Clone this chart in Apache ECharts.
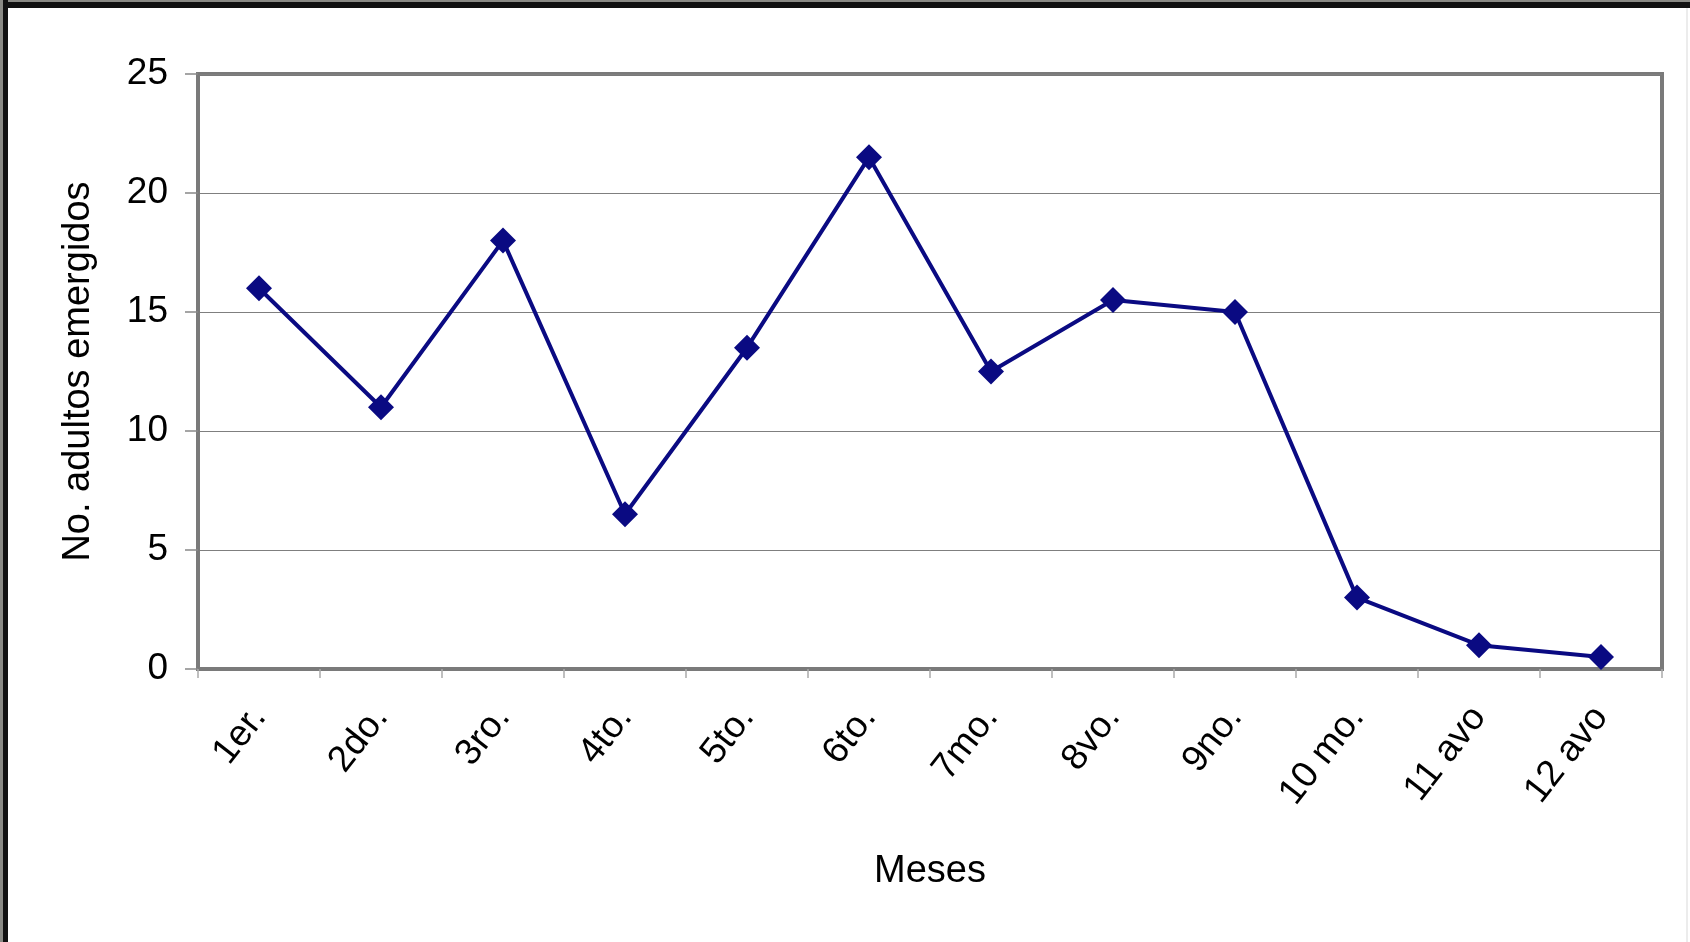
<!DOCTYPE html>
<html>
<head>
<meta charset="utf-8">
<script src="https://cdn.jsdelivr.net/npm/echarts@6/dist/echarts.min.js"></script>
<style>
  html, body { margin: 0; padding: 0; background: #ffffff; }
  #wrap { position: relative; width: 1690px; height: 942px; overflow: hidden; background: #fff; }
  #chart { position: absolute; left: 0; top: 0; width: 1690px; height: 942px; }
  .frameTop { position: absolute; left: 0; top: 0; width: 1690px; height: 8px; background: #111; border-top: 2px solid #8a8a85; box-sizing: border-box; }
  .frameLeft { position: absolute; left: 0; top: 0; width: 8px; height: 942px; background: #111; border-left: 3px solid #8a8a85; box-sizing: border-box; }
  .frameRight { position: absolute; right: 2px; top: 8px; width: 2px; height: 934px; background: #ececec; }
</style>
</head>
<body>
<div id="wrap">
  <div id="chart"></div>
  <div class="frameTop"></div>
  <div class="frameLeft"></div>
  <div class="frameRight"></div>
</div>
<script>
const categories = ['1er.', '2do.', '3ro.', '4to.', '5to.', '6to.', '7mo.', '8vo.', '9no.', '10 mo.', '11 avo', '12 avo'];
const adultosEmergidos = [16, 11, 18, 6.5, 13.5, 21.5, 12.5, 15.5, 15, 3, 1, 0.5];
const yAxisTitle = 'No. adultos emergidos';
const xAxisTitle = 'Meses';

const font = 'Arial, "Liberation Sans", Helvetica, sans-serif';
const chart = echarts.init(document.getElementById('chart'), null, { renderer: 'canvas' });
chart.setOption({
  animation: false,
  backgroundColor: '#ffffff',
  grid: {
    left: 198, top: 74, right: 28, bottom: 273,
    show: true, borderColor: '#7a7a7a', borderWidth: 4, backgroundColor: 'transparent'
  },
  xAxis: {
    type: 'category',
    data: categories,
    boundaryGap: true,
    name: xAxisTitle,
    nameLocation: 'middle',
    nameGap: 184,
    nameTextStyle: { fontFamily: font, fontSize: 38, color: '#000' },
    axisLine: { show: true, lineStyle: { color: '#7a7a7a', width: 4 } },
    axisTick: { show: true, alignWithLabel: false, length: 9, lineStyle: { color: '#aaaaaa', width: 1.5 } },
    axisLabel: { rotate: 52, margin: 42, fontFamily: font, fontSize: 37, color: '#000', interval: 0 },
    splitLine: { show: false }
  },
  yAxis: {
    type: 'value',
    min: 0, max: 25, interval: 5,
    name: yAxisTitle,
    nameLocation: 'middle',
    nameGap: 100,
    nameRotate: 90,
    nameTextStyle: { fontFamily: font, fontSize: 38, color: '#000' },
    axisLine: { show: true, lineStyle: { color: '#7a7a7a', width: 4 } },
    axisTick: { show: true, length: 13, lineStyle: { color: '#888', width: 1.5 } },
    axisLabel: { margin: 30, fontFamily: font, fontSize: 37, color: '#000' },
    splitLine: { show: true, lineStyle: { color: '#7f7f7f', width: 1.2 } }
  },
  series: [{
    type: 'line',
    data: adultosEmergidos,
    symbol: 'diamond',
    symbolSize: 26,
    itemStyle: { color: '#0a0a82' },
    lineStyle: { color: '#0a0a82', width: 4 },
    z: 5
  }]
});
</script>
</body>
</html>
